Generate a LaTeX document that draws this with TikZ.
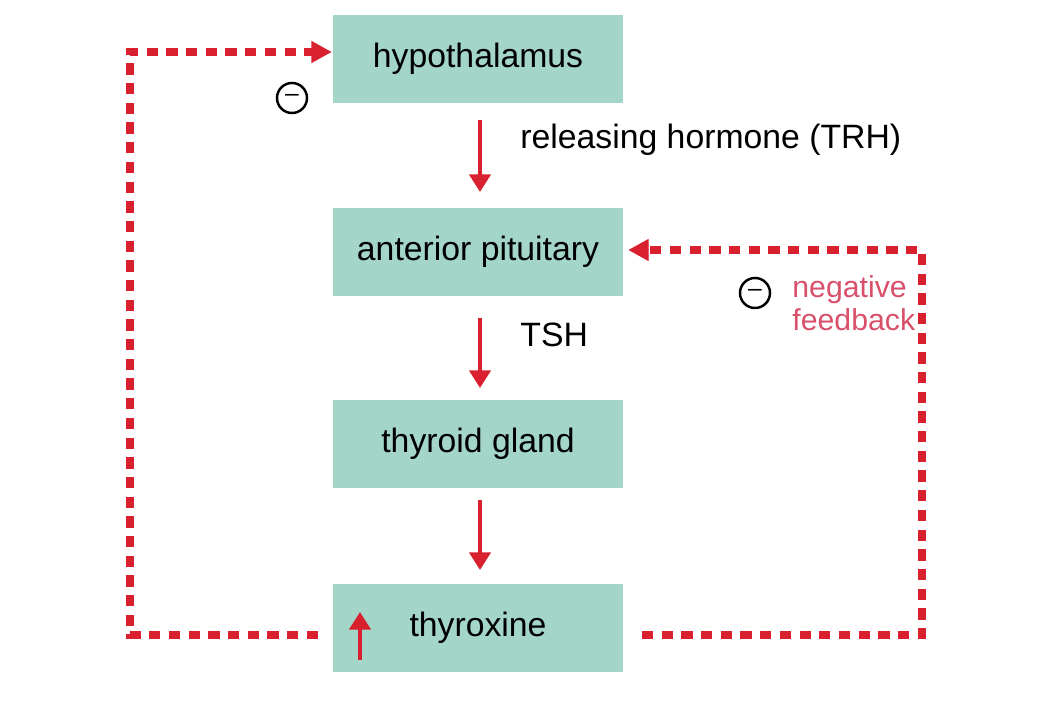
\documentclass[tikz,border=0pt]{standalone}
\usepackage{fontspec}
\setmainfont{Liberation Sans}
\usetikzlibrary{arrows.meta}
\definecolor{boxc}{HTML}{A3D5C8}
\definecolor{redc}{HTML}{D8202E}
\definecolor{pinkc}{HTML}{D9506A}
\begin{document}
\begin{tikzpicture}[x=0.01cm,y=-0.01cm,
  box/.style={fill=boxc,draw=none,minimum width=2.9cm,minimum height=0.87cm,inner sep=0pt,font=\fontsize{9.6}{11}\selectfont},
  solidarr/.style={draw=redc,line width=1.1pt,-{Triangle[length=5pt,width=6pt]}},
  dasharr/.style={draw=redc,line width=2pt,dash pattern=on 3.2pt off 2.4pt},
  minus/.style={circle,draw=black,line width=0.7pt,minimum size=0.3cm,inner sep=0pt,font=\fontsize{7}{8}\selectfont},
  lab/.style={anchor=west,font=\fontsize{9.6}{11}\selectfont}]
\useasboundingbox (0,0) rectangle (1060,701);
\node[box] (h) at (478,59) {hypothalamus};
\node[box] (p) at (478,252) {anterior pituitary};
\node[box] (t) at (478,444) {thyroid gland};
\node[box] (x) at (478,628) {thyroxine};
\draw[solidarr] (480,120) -- (480,192);
\draw[solidarr] (480,318) -- (480,388);
\draw[solidarr] (480,500) -- (480,570);
\draw[solidarr] (360,660) -- (360,612);
\coordinate (l1) at (318,635);
\coordinate (l2) at (130,635);
\coordinate (l3) at (130,52);
\coordinate (l4) at (312,52);
\draw[dasharr] (l1) -- (l2) -- (l3) -- (l4);
\draw[draw=redc,fill=redc] (312,42) -- (330,52) -- (312,62) -- cycle;
\coordinate (r1) at (642,635);
\coordinate (r2) at (922,635);
\coordinate (r3) at (922,250);
\coordinate (r4) at (648,250);
\draw[dasharr] (r1) -- (r2) -- (r3) -- (r4);
\draw[draw=redc,fill=redc] (648,240) -- (630,250) -- (648,260) -- cycle;
\node[minus] (m1) at (292,98) {--};
\node[minus] (m2) at (755,293) {--};
\node[lab] (trh) at (508,140) {releasing hormone (TRH)};
\node[lab] (tsh) at (508,335) {TSH};
\node[anchor=west,text=pinkc,align=left,font=\fontsize{8.6}{9.4}\selectfont] (nf) at (780,303) {negative\\feedback};
\end{tikzpicture}
\end{document}
